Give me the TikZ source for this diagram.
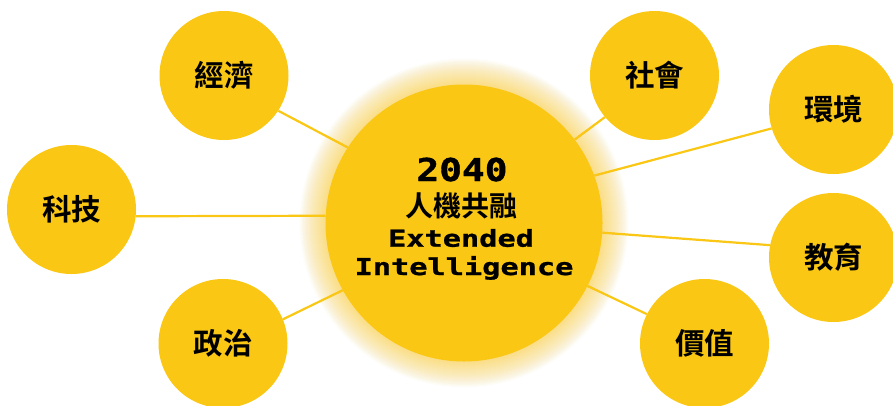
\documentclass[tikz,border=0pt]{standalone}
\usepackage{fontspec}
\newfontfamily\cjk{Noto Sans CJK TC Bold}
\newfontfamily\pixA{DejaVu Sans Mono Bold}[FakeStretch=1.2,FakeBold=1.2]
\newfontfamily\pixB{DejaVu Sans Mono Bold}[FakeStretch=1.3,FakeBold=1]
\definecolor{gold}{RGB}{250,199,20}
\pgfdeclarelayer{linelayer}
\pgfdeclarelayer{glowlayer}
\pgfsetlayers{linelayer,glowlayer,main}
\begin{document}
\begin{tikzpicture}[x=1pt,y=-1pt,
  topic/.style={circle,fill=gold,minimum size=129pt,inner sep=0pt,
    font=\cjk\fontsize{29.5}{29.5}\selectfont},
  hub/.style={circle,fill=gold,minimum size=277pt,inner sep=0pt},
  link/.style={draw=gold,line width=2.2pt},
  ctext/.style={anchor=base,inner sep=0pt,text=black}]
\useasboundingbox (0,0) rectangle (893,405);
\clip (0,0) rectangle (893,405);

\node[hub] (hub) at (464,223) {};
\node[topic] (jj) at (224,75.5) {經濟};
\node[topic] (kj) at (71.5,209.5) {科技};
\node[topic] (zz) at (223,343.5) {政治};
\node[topic] (sh) at (654.5,75.5) {社會};
\node[topic] (hj) at (833.5,109.5) {環境};
\node[topic] (jy) at (833.5,257.5) {教育};
\node[topic] (jz) at (704.5,343.5) {價值};

\node[ctext] (t1) at (462,181) {\pixA\fontsize{31.5}{31.5}\selectfont 2040};
\node[ctext,anchor=center] (t2) at (461,206) {\cjk\fontsize{28}{28}\selectfont 人機共融};
\node[ctext] (t3) at (461,246.7) {\pixB\fontsize{23.3}{23.3}\selectfont Extended};
\node[ctext] (t4) at (464,275) {\pixB\fontsize{23.3}{23.3}\selectfont Intelligence};

\begin{pgfonlayer}{linelayer}
  \fill[white] (0,0) rectangle (893,405);
  \draw[link] (jj.-33.3) -- (hub.147.7);
  \draw[link] (kj.-6.9) -- (hub.177.6);
  \draw[link] (zz.22.2) -- (hub.209.2);
  \draw[link] (sh.220) -- (hub.37.1);
  \draw[link] (hj.197.6) -- (hub.20);
  \draw[link] (jy.169.7) -- (hub.-4.5);
  \draw[link] (jz.153.6) -- (hub.-27.3);
\end{pgfonlayer}

\begin{pgfonlayer}{glowlayer}
  \foreach \i in {1,...,26}{
    \pgfmathsetmacro\rr{138.5+\i}
    \fill[gold,opacity=0.022] (hub.center) circle[radius=\rr pt];
  }
\end{pgfonlayer}
\end{tikzpicture}
\end{document}
